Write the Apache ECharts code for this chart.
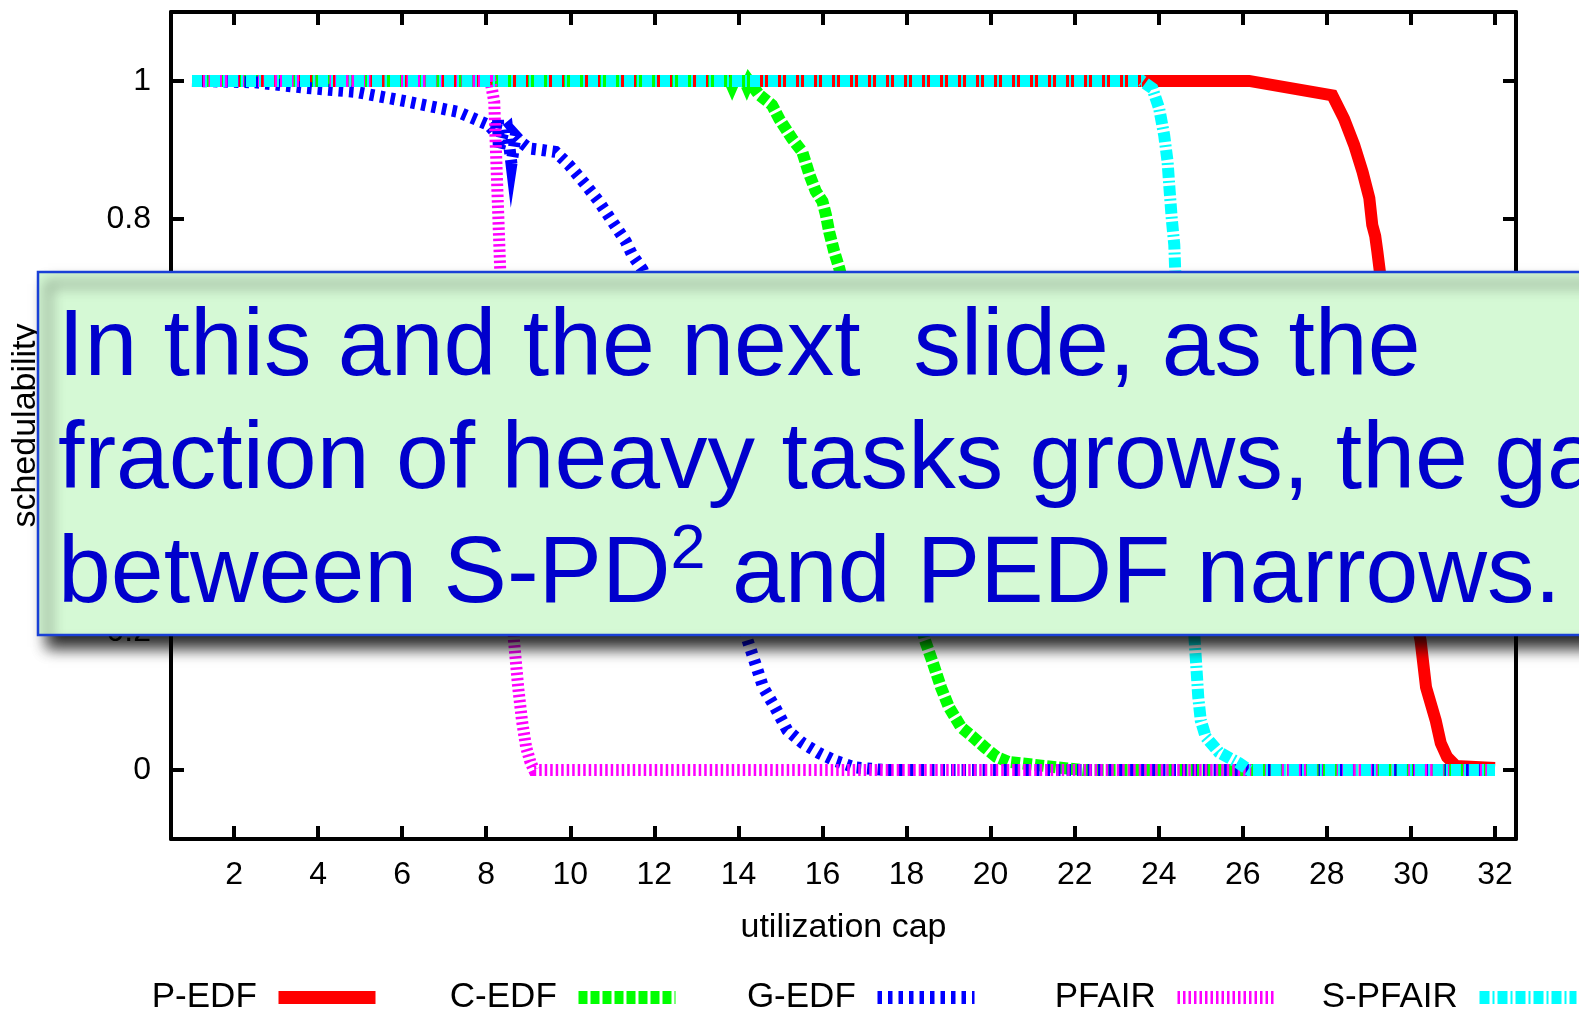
<!DOCTYPE html>
<html>
<head>
<meta charset="utf-8">
<script src="https://cdn.jsdelivr.net/npm/echarts@6/dist/echarts.min.js"></script>
<style>
html,body{margin:0;padding:0;background:#ffffff;}
#chart{width:1579px;height:1011px;}
</style>
</head>
<body>
<div id="chart"></div>
<script>
// ---- tick labels ----
const xTicks = [2, 4, 6, 8, 10, 12, 14, 16, 18, 20, 22, 24, 26, 28, 30, 32];
const yTicks = [0, 0.2, 0.4, 0.6, 0.8, 1];

// ---- series names ----
const seriesNames = ['P-EDF', 'C-EDF', 'G-EDF', 'PFAIR', 'S-PFAIR'];

// ---- series values: [utilization cap, schedulability] ----
const pEDF = [[1,1],[26.15,1],[28.13,0.979],[28.41,0.945],[28.65,0.907],[28.85,0.868],[29.01,0.83],[29.08,0.791],[29.15,0.775],[29.2,0.753],[29.26,0.724],[29.5,0.59],[29.75,0.45],[30.0,0.31],[30.2,0.197],[30.23,0.188],[30.36,0.12],[30.59,0.072],[30.71,0.039],[30.86,0.019],[31.07,0.006],[32,0.003]];
const cEDF = [[1,1],[13.8,1],[13.85,0.993],[13.9,1],[14.15,1],[14.2,0.993],[14.25,1],[14.49,0.98],[14.8,0.965],[14.97,0.945],[15.28,0.916],[15.52,0.897],[15.69,0.864],[15.84,0.84],[16.0,0.825],[16.08,0.806],[16.16,0.781],[16.28,0.752],[16.4,0.728],[16.9,0.6],[17.45,0.45],[18.0,0.3],[18.44,0.188],[18.63,0.155],[18.82,0.12],[19.01,0.091],[19.3,0.062],[19.58,0.048],[19.86,0.033],[20.14,0.019],[20.42,0.012],[20.99,0.008],[21.56,0.004],[22.2,0],[32,0]];
const gEDF = [[1,1],[2.5,0.998],[3.7,0.99],[4.9,0.984],[6.12,0.97],[7.33,0.955],[8.06,0.936],[8.2,0.926],[8.28,0.945],[8.3,0.9],[8.4,0.925],[8.5,0.93],[8.6,0.88],[8.7,0.92],[8.85,0.91],[9.02,0.902],[9.3,0.9],[9.65,0.897],[9.97,0.878],[10.37,0.849],[10.68,0.825],[11.0,0.796],[11.32,0.767],[11.47,0.748],[11.72,0.726],[12.3,0.6],[12.9,0.47],[13.5,0.34],[13.9,0.256],[14.22,0.188],[14.4,0.155],[14.59,0.12],[14.87,0.091],[15.16,0.058],[15.53,0.039],[15.91,0.025],[16.28,0.014],[16.76,0.004],[17.5,0],[32,0]];
const pFAIR = [[1,1],[8.1,1],[8.19,0.97],[8.26,0.85],[8.33,0.73],[8.42,0.58],[8.51,0.43],[8.6,0.29],[8.66,0.188],[8.76,0.12],[8.85,0.072],[8.95,0.033],[9.05,0.012],[9.14,0],[32,0]];
const sPFAIR = [[1,1],[23.6,1],[23.85,0.989],[24.01,0.96],[24.13,0.921],[24.21,0.883],[24.26,0.84],[24.31,0.8],[24.37,0.762],[24.39,0.728],[24.5,0.6],[24.62,0.45],[24.74,0.3],[24.86,0.183],[24.9,0.145],[24.94,0.106],[25.0,0.072],[25.12,0.048],[25.43,0.026],[25.91,0.01],[26.15,0],[32,0]];

// ---- overlay note text ----
const noteLine1 = 'In this and the next  slide, as the';
const noteLine2 = 'fraction of heavy tasks grows, the gap';
const noteLine3a = 'between S-PD';
const noteLine3sup = '2';
const noteLine3b = ' and PEDF narrows.';

const FONT = '"Liberation Sans", Arial, Helvetica, sans-serif';
const colors = ['#ff0000', '#00ff00', '#0000ff', '#ff00ff', '#00ffff'];
const dashes = ['solid', [9, 3], [4.5, 6], [2.5, 3], [10, 3, 2, 3]];
const dataSets = [pEDF, cEDF, gEDF, pFAIR, sPFAIR];
const legendRight = [1197, 897, 598, 298, -4];

const chart = echarts.init(document.getElementById('chart'), null, {renderer: 'canvas'});

const series = seriesNames.map((n, i) => ({
  name: n,
  type: 'line',
  data: dataSets[i],
  symbol: 'none',
  showSymbol: false,
  xAxisIndex: 0,
  yAxisIndex: 0,
  z: 2 + i,
  lineStyle: {color: colors[i], width: 12, type: dashes[i], join: 'miter', miterLimit: 10, cap: 'butt'},
  itemStyle: {color: colors[i]},
  emphasis: {disabled: true}
}));

const legends = seriesNames.map((n, i) => ({
  data: [n],
  right: legendRight[i],
  top: 980,
  align: 'right',
  orient: 'horizontal',
  padding: 0,
  itemGap: 0,
  itemWidth: 97,
  itemHeight: 13,
  selectedMode: false,
  formatter: name => name + ' \u2009',
  textStyle: {fontSize: 35, fontFamily: FONT, color: '#000'},
  itemStyle: {opacity: 0, borderWidth: 0},
  lineStyle: {width: 13, opacity: 1}
}));

const axisLineStyle = {color: '#000', width: 4};
const option = {
  animation: false,
  backgroundColor: '#ffffff',
  grid: {left: 171, right: 63, top: 12, bottom: 172, containLabel: false},
  legend: legends,
  xAxis: [
    {
      type: 'value', position: 'bottom', min: 0.5, max: 32.5,
      name: 'utilization cap', nameLocation: 'middle', nameGap: 72,
      nameTextStyle: {fontSize: 34, fontFamily: FONT, color: '#000'},
      axisLine: {show: true, onZero: false, lineStyle: axisLineStyle},
      axisTick: {show: true, inside: true, length: 13, customValues: xTicks, lineStyle: {color: '#000', width: 4}},
      axisLabel: {show: true, customValues: xTicks, margin: 20, fontSize: 32, fontFamily: FONT, color: '#000'},
      splitLine: {show: false}
    },
    {
      type: 'value', position: 'top', min: 0.5, max: 32.5,
      axisLine: {show: true, onZero: false, lineStyle: axisLineStyle},
      axisTick: {show: true, inside: true, length: 13, customValues: xTicks, lineStyle: {color: '#000', width: 4}},
      axisLabel: {show: false},
      splitLine: {show: false}
    }
  ],
  yAxis: [
    {
      type: 'value', position: 'left', min: -0.1, max: 1.1,
      name: 'schedulability', nameLocation: 'middle', nameGap: 128,
      nameTextStyle: {fontSize: 34, fontFamily: FONT, color: '#000'},
      axisLine: {show: true, onZero: false, lineStyle: axisLineStyle},
      axisTick: {show: true, inside: true, length: 13, customValues: yTicks, lineStyle: {color: '#000', width: 4}},
      axisLabel: {show: true, customValues: yTicks, margin: 20, fontSize: 32, fontFamily: FONT, color: '#000'},
      splitLine: {show: false}
    },
    {
      type: 'value', position: 'right', min: -0.1, max: 1.1,
      axisLine: {show: true, onZero: false, lineStyle: axisLineStyle},
      axisTick: {show: true, inside: true, length: 13, customValues: yTicks, lineStyle: {color: '#000', width: 4}},
      axisLabel: {show: false},
      splitLine: {show: false}
    }
  ],
  series: series,
  graphic: [
    {
      type: 'rect', z: 100, silent: true,
      shape: {x: 38, y: 272, width: 1600, height: 363},
      style: {fill: '#d5f9d5', stroke: '#1a40d6', lineWidth: 2.5,
        shadowBlur: 14, shadowOffsetX: 10, shadowOffsetY: 12, shadowColor: 'rgba(0,0,0,0.85)'}
    },
    {
      type: 'text', z: 101, silent: true,
      style: {x: 58, y: 349, text: noteLine1, fontSize: 95, fontFamily: FONT, fill: '#0000cc', verticalAlign: 'middle', align: 'left'}
    },
    {
      type: 'text', z: 101, silent: true,
      style: {x: 58, y: 462, text: noteLine2, fontSize: 95, fontFamily: FONT, fill: '#0000cc', verticalAlign: 'middle', align: 'left'}
    },
    {
      type: 'text', z: 101, silent: true,
      style: {
        x: 58, y: 576, align: 'left', verticalAlign: 'middle', fill: '#0000cc',
        text: '{a|' + noteLine3a + '}{s|' + noteLine3sup + '}{a|' + noteLine3b + '}',
        rich: {
          a: {fontSize: 95, fontFamily: FONT, fill: '#0000cc', lineHeight: 113},
          s: {fontSize: 63, fontFamily: FONT, fill: '#0000cc', lineHeight: 76, verticalAlign: 'top'}
        }
      }
    }
  ]
};
chart.setOption(option);
</script>
</body>
</html>
